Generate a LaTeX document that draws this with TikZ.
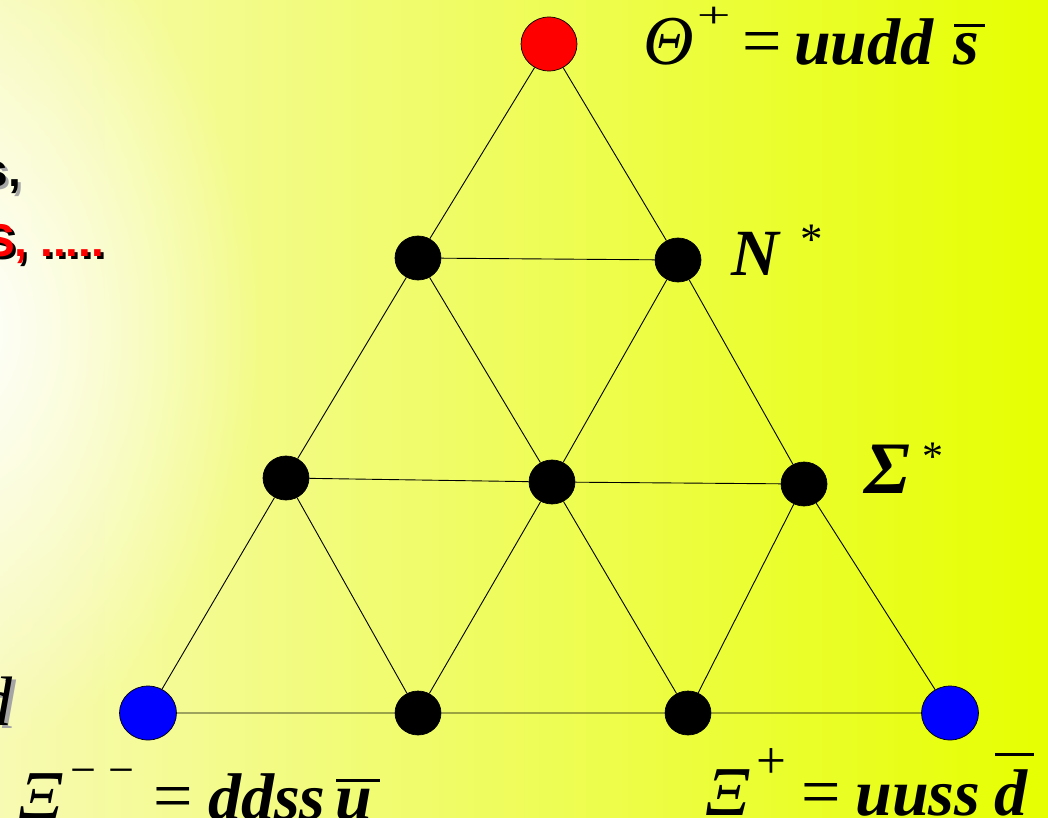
\documentclass[tikz,border=0pt]{standalone}
\usepackage{fontspec}
\setmainfont{Liberation Serif}
\setsansfont{Liberation Sans}
\usetikzlibrary{shapes.geometric,fadings}

\definecolor{bgleft}{RGB}{247,250,178}
\definecolor{bgright}{RGB}{230,255,0}
\definecolor{shadowgray}{RGB}{165,165,165}
\tikzfading[name=whitespot,inner color=transparent!0,outer color=transparent!100]

% bar over an antiquark letter
\newcommand\qbar[2][7pt]{\setbox0\hbox{#2}\rlap{\kern0.02\wd0\raisebox{\dimexpr\ht0+#1\relax}{\rule{1.2\wd0}{3pt}}}\box0}
% text with a drop shadow
\newcommand\shtext[3]{\rlap{\kern3pt\raisebox{-3pt}{\color{#1}#3}}{\color{#2}#3}}
\newcommand\quarks{\bfseries\itshape\fontsize{66}{66}\selectfont}

\begin{document}
\begin{tikzpicture}[x=1pt,y=-1pt,
  state/.style={ellipse,draw=black,line width=0.7pt,fill=black,
    minimum width=46pt,minimum height=44pt,inner sep=0pt},
  exotic/.style={state,minimum width=57pt,minimum height=54pt},
  link/.style={line width=0.9pt},
  formula/.style={anchor=base west,inner sep=0pt,font=\fontsize{70}{70}\selectfont},
  sidetext/.style={anchor=base east,inner sep=0pt,font=\sffamily\bfseries\fontsize{46}{46}\selectfont}]
  \useasboundingbox (0,0) rectangle (1048,818);
  % background
  \shade[left color=bgleft,right color=bgright] (0,0) rectangle (1048,818);
  \fill[white,path fading=whitespot] (-40,330) ellipse (300 and 420);
  % cut-off text of the slide
  \node[sidetext] (txta) at (21,187) {\shtext{shadowgray}{black}{s,}};
  \node[sidetext,anchor=base west] (txtb) at (-16,256) {\shtext{black}{red}{S, .....}};
  \node[anchor=base east,inner sep=0pt,font=\itshape\fontsize{70}{70}\selectfont] (txtc) at (13,725)
    {\rlap{\kern4pt\raisebox{-3pt}{\color{shadowgray}d}}d};
  % antidecuplet
  \node[exotic,fill=red,minimum width=56pt] (theta) at (549,44) {};
  \node[state] (n1) at (418,258) {};
  \node[state] (n2) at (678,260) {};
  \node[state] (s1) at (286,478) {};
  \node[state] (s2) at (552,482) {};
  \node[state] (s3) at (804,484) {};
  \node[exotic,fill=blue] (xim) at (148,713) {};
  \node[state] (x1) at (418,713) {};
  \node[state] (x2) at (688,713) {};
  \node[exotic,fill=blue] (xip) at (950,713) {};
  \draw[link] (theta) -- (n1) -- (s1) -- (xim) -- (x1) -- (x2) -- (xip) -- (s3) -- (n2) -- (theta);
  \draw[link] (n1) -- (n2) (s1) -- (s2) -- (s3);
  \draw[link] (n1) -- (s2) -- (x2) (n2) -- (s2) -- (x1);
  \draw[link] (s1) -- (x1) (s3) -- (x2);
  % labels
  \node[formula] (thetalbl) at (643,65)
    {\itshape Θ\kern3pt\raisebox{37pt}{\upshape\fontsize{60}{60}\selectfont\scalebox{1}[0.6]{+}}\kern12pt\upshape=\kern12pt{\quarks uudd\kern20pt\qbar{s}}};
  \node[formula,font=\fontsize{66}{66}\selectfont] (nlbl) at (731,275)
    {\bfseries\itshape N\kern22pt\raisebox{21pt}{\mdseries\upshape\fontsize{45}{45}\selectfont *}};
  \node[formula,font=\fontsize{74}{74}\selectfont] (sigmalbl) at (864,493)
    {\bfseries\itshape Σ\kern12pt\raisebox{23pt}{\mdseries\upshape\fontsize{42}{42}\selectfont *}};
  \node[formula] (ximlbl) at (18,819)
    {\itshape Ξ\kern8pt\raisebox{34pt}{\upshape\fontsize{46}{46}\selectfont −\kern12pt−}\kern19pt\upshape=\kern15pt{\quarks ddss\kern10pt\qbar{u}}};
  \node[formula] (xiplbl) at (705,815)
    {\itshape Ξ\kern7pt\raisebox{37pt}{\upshape\fontsize{53}{53}\selectfont +}\kern15pt\upshape=\kern14pt{\quarks uuss\kern14pt\qbar[13pt]{d}}};
\end{tikzpicture}
\end{document}
